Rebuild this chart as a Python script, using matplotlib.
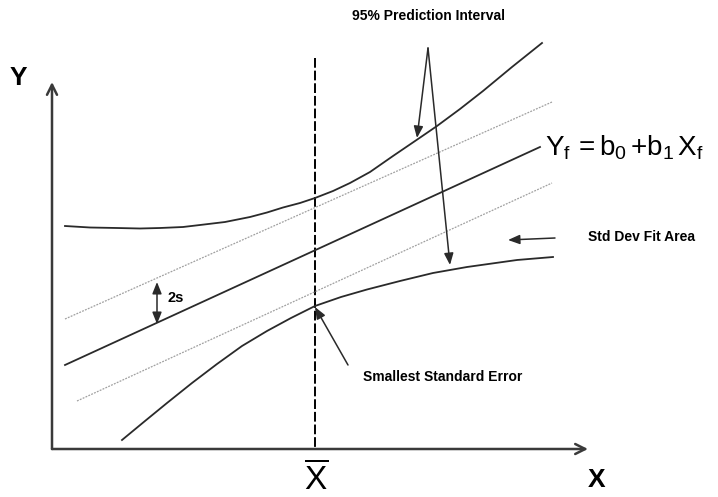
import matplotlib.pyplot as plt

plt.rcParams['font.family'] = 'Liberation Sans'
plt.rcParams['mathtext.fontset'] = 'custom'
plt.rcParams['mathtext.rm'] = 'Liberation Sans'
plt.rcParams['mathtext.it'] = 'Liberation Sans'

# linha ajustada e faixa de +/- s (coordenadas do esquema)
fit_x = [65, 540]
fit_y = [365, 147]
band_hi_x = [65, 552]
band_hi_y = [319, 102]
band_lo_x = [77, 552]
band_lo_y = [401, 183]

# curvas do intervalo de predicao de 95%
pi_hi_x = [65, 90, 117, 140, 160, 183, 200, 225, 250, 267, 283, 300, 315,
           333, 350, 370, 393, 418, 437, 460, 483, 512, 542]
pi_hi_y = [226, 227.5, 228, 228.5, 228, 227, 225, 222, 217, 212.5, 207.5, 203,
           198, 191, 183, 172, 156, 139, 126, 109, 91, 67, 43]
pi_lo_x = [122, 145, 167, 192, 217, 242, 267, 291, 315, 341, 367, 400, 433,
           467, 517, 553]
pi_lo_y = [440, 421, 403, 383, 364, 346, 331, 318, 306, 297, 289.5, 281, 273,
           267, 260, 257]

x_mean = 315
origin = (52, 449)
x_end = 588
y_end = 82

fig = plt.figure(figsize=(7.18, 4.97), dpi=100)
ax = fig.add_axes([0, 0, 1, 1])
ax.set_xlim(0, 718)
ax.set_ylim(497, 0)
ax.axis('off')

axis_kw = dict(arrowstyle='->', color='#3a3a3a', lw=1.8, mutation_scale=18,
               shrinkA=0, shrinkB=0)
ax.annotate('', xy=(x_end, origin[1]), xytext=origin, arrowprops=axis_kw)
ax.annotate('', xy=(origin[0], y_end), xytext=origin, arrowprops=axis_kw)

# media de X
ax.plot([x_mean, x_mean], [58, origin[1]], color='black', lw=1.4,
        linestyle=(0, (5, 1.5)))

ax.plot(band_hi_x, band_hi_y, color='#a0a0a0', lw=0.9, linestyle=(0, (1.5, 1)))
ax.plot(band_lo_x, band_lo_y, color='#a0a0a0', lw=0.9, linestyle=(0, (1.5, 1)))
ax.plot(fit_x, fit_y, color='#2a2a2a', lw=1.3)
ax.plot(pi_hi_x, pi_hi_y, color='#2a2a2a', lw=1.3, solid_joinstyle='round')
ax.plot(pi_lo_x, pi_lo_y, color='#2a2a2a', lw=1.3, solid_joinstyle='round')

arr = dict(arrowstyle='-|>,head_length=0.5,head_width=0.2', color='#2a2a2a',
           lw=1.1, mutation_scale=14, shrinkA=0, shrinkB=0)
ax.annotate('', xy=(417, 138), xytext=(428, 48), arrowprops=arr)
ax.annotate('', xy=(450, 265), xytext=(428, 48), arrowprops=arr)
ax.annotate('', xy=(315, 307), xytext=(348, 365), arrowprops=arr)
ax.annotate('', xy=(508, 240), xytext=(555, 238), arrowprops=arr)
ax.annotate('', xy=(157, 282), xytext=(157, 324),
            arrowprops=dict(arr, arrowstyle='<|-|>,head_length=0.5,head_width=0.2'))

ax.text(428, 16, '95% Prediction Interval', fontsize=10, fontweight='bold',
        ha='center', va='center')
ax.text(443, 377, 'Smallest Standard Error', fontsize=10, fontweight='bold',
        ha='center', va='center')
ax.text(642, 237, 'Std Dev Fit Area', fontsize=10, fontweight='bold',
        ha='center', va='center')
ax.text(168, 298, '2s', fontsize=10.5, fontweight='bold', ha='left', va='center')

ax.text(545, 155, r'$\mathrm{Y_f\,{=}b_0\,{+}b_1\,X_f}$', fontsize=20,
        ha='left', va='baseline')

ax.text(18, 78, 'Y', fontsize=19, fontweight='bold', ha='center', va='center')
ax.text(597, 480, 'X', fontsize=19, fontweight='bold', ha='center', va='center')
ax.text(x_mean + 1, 496, r'$\overline{\mathrm{X}}$', fontsize=24,
        ha='center', va='bottom')

plt.savefig('out.png', dpi=100)
